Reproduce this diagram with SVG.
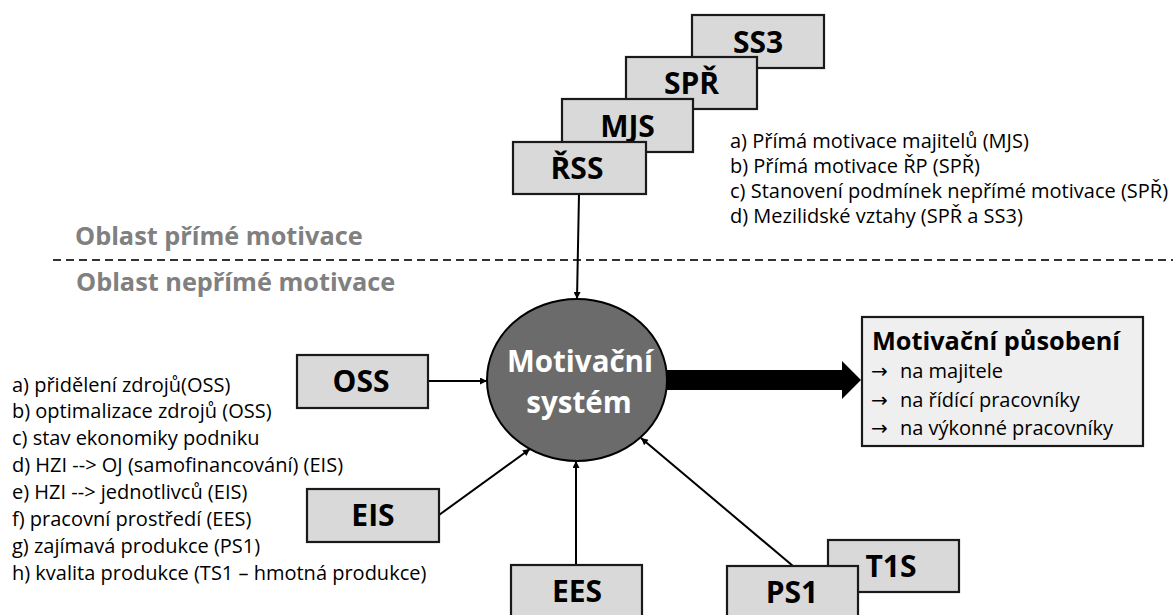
<svg xmlns="http://www.w3.org/2000/svg" width="1173" height="615" viewBox="0 0 1173 615">
<defs>
<marker id="ah" viewBox="0 0 10 10" refX="10" refY="5" markerWidth="8" markerHeight="7" markerUnits="userSpaceOnUse" orient="auto">
<path d="M0,0 L10,5 L0,10 z" fill="#000"/>
</marker>
<style>
.box{fill:#d9d9d9;stroke:#1a1a1a;stroke-width:2.2}
.lbl{font-family:"Open Sans","Liberation Sans",sans-serif;font-weight:bold;font-size:30px;fill:#000;text-anchor:middle}
.list{font-family:"Open Sans","Liberation Sans",sans-serif;font-size:20px;fill:#000}
.arr{font-family:"DejaVu Sans",sans-serif;font-size:20px;fill:#000}
.area{font-family:"Open Sans","Liberation Sans",sans-serif;font-weight:bold;font-size:25.3px;fill:#808080}
.conn{stroke:#000;stroke-width:2;fill:none}
.ctext{font-family:"Open Sans","Liberation Sans",sans-serif;font-weight:bold;font-size:29.5px;fill:#fff;text-anchor:middle}
</style>
</defs>
<rect width="1173" height="615" fill="#fff"/>

<g id="areas">
<text class="area" x="75" y="245">Oblast přímé motivace</text>
<line x1="53" y1="260" x2="1173" y2="260" stroke="#333" stroke-width="2" stroke-dasharray="8 5"/>
<text class="area" x="76" y="291">Oblast nepřímé motivace</text>
</g>

<g id="list-top">
<text class="list" x="730" y="148">a) Přímá motivace majitelů (MJS)</text>
<text class="list" x="730" y="173">b) Přímá motivace ŘP (SPŘ)</text>
<text class="list" x="730" y="198">c) Stanovení podmínek nepřímé motivace (SPŘ)</text>
<text class="list" x="730" y="223">d) Mezilidské vztahy (SPŘ a SS3)</text>
</g>

<g id="list-left">
<text class="list" x="12" y="392">a) přidělení zdrojů(OSS)</text>
<text class="list" x="12" y="418">b) optimalizace zdrojů (OSS)</text>
<text class="list" x="12" y="445">c) stav ekonomiky podniku</text>
<text class="list" x="12" y="472">d) HZI --&gt; OJ (samofinancování) (EIS)</text>
<text class="list" x="12" y="499">e) HZI --&gt; jednotlivců (EIS)</text>
<text class="list" x="12" y="526">f) pracovní prostředí (EES)</text>
<text class="list" x="12" y="553">g) zajímavá produkce (PS1)</text>
<text class="list" x="12" y="580">h) kvalita produkce (TS1 – hmotná produkce)</text>
</g>

<g id="connectors">
<line class="conn" x1="579" y1="194" x2="577" y2="299" marker-end="url(#ah)"/>
<line class="conn" x1="428" y1="381" x2="487" y2="381" marker-end="url(#ah)"/>
<line class="conn" x1="439" y1="515" x2="530" y2="449" marker-end="url(#ah)"/>
<line class="conn" x1="576" y1="565" x2="576" y2="461" marker-end="url(#ah)"/>
<line class="conn" x1="793" y1="566" x2="641" y2="438" marker-end="url(#ah)"/>
<polygon points="660,370 842,370 842,361 861,380 842,399 842,390 660,390" fill="#000"/>
</g>

<g id="node-motivacni-system">
<ellipse cx="577" cy="380" rx="90" ry="81" fill="#6b6b6b" stroke="#000" stroke-width="2"/>
<text class="ctext" x="580" y="372">Motivační</text>
<text class="ctext" x="579" y="413">systém</text>
</g>

<g id="node-ss3">
<rect class="box" x="692" y="15" width="132" height="53"/>
<text class="lbl" x="758" y="52.5">SS3</text>
</g>
<g id="node-spr">
<rect class="box" x="626" y="57" width="131" height="52"/>
<text class="lbl" x="691.5" y="93.5">SPŘ</text>
</g>
<g id="node-mjs">
<rect class="box" x="562" y="99" width="131" height="53"/>
<text class="lbl" x="627.5" y="136.5">MJS</text>
</g>
<g id="node-rss">
<rect class="box" x="513" y="142" width="133" height="52"/>
<text class="lbl" x="577" y="178.5">ŘSS</text>
</g>

<g id="node-oss">
<rect class="box" x="297" y="355" width="131" height="53"/>
<text class="lbl" x="361" y="392">OSS</text>
</g>
<g id="node-eis">
<rect class="box" x="307" y="489" width="132" height="53"/>
<text class="lbl" x="373" y="526">EIS</text>
</g>
<g id="node-ees">
<rect class="box" x="511" y="565" width="131" height="53"/>
<text class="lbl" x="577" y="602">EES</text>
</g>
<g id="node-t1s">
<rect class="box" x="828" y="540" width="131" height="52"/>
<text class="lbl" x="891" y="577">T1S</text>
</g>
<g id="node-ps1">
<rect class="box" x="727" y="566" width="131" height="53"/>
<text class="lbl" x="792" y="603">PS1</text>
</g>

<g id="node-motivacni-pusobeni">
<rect x="862" y="317" width="281" height="129" fill="#efefef" stroke="#1a1a1a" stroke-width="2.2"/>
<text x="872" y="350" font-family="Open Sans, Liberation Sans, sans-serif" font-weight="bold" font-size="25.3px" fill="#000">Motivační působení</text>
<text class="arr" x="871" y="378">→</text><text class="list" x="900" y="378">na majitele</text>
<text class="arr" x="871" y="407">→</text><text class="list" x="900" y="407">na řídící pracovníky</text>
<text class="arr" x="871" y="435">→</text><text class="list" x="900" y="435">na výkonné pracovníky</text>
</g>
</svg>
